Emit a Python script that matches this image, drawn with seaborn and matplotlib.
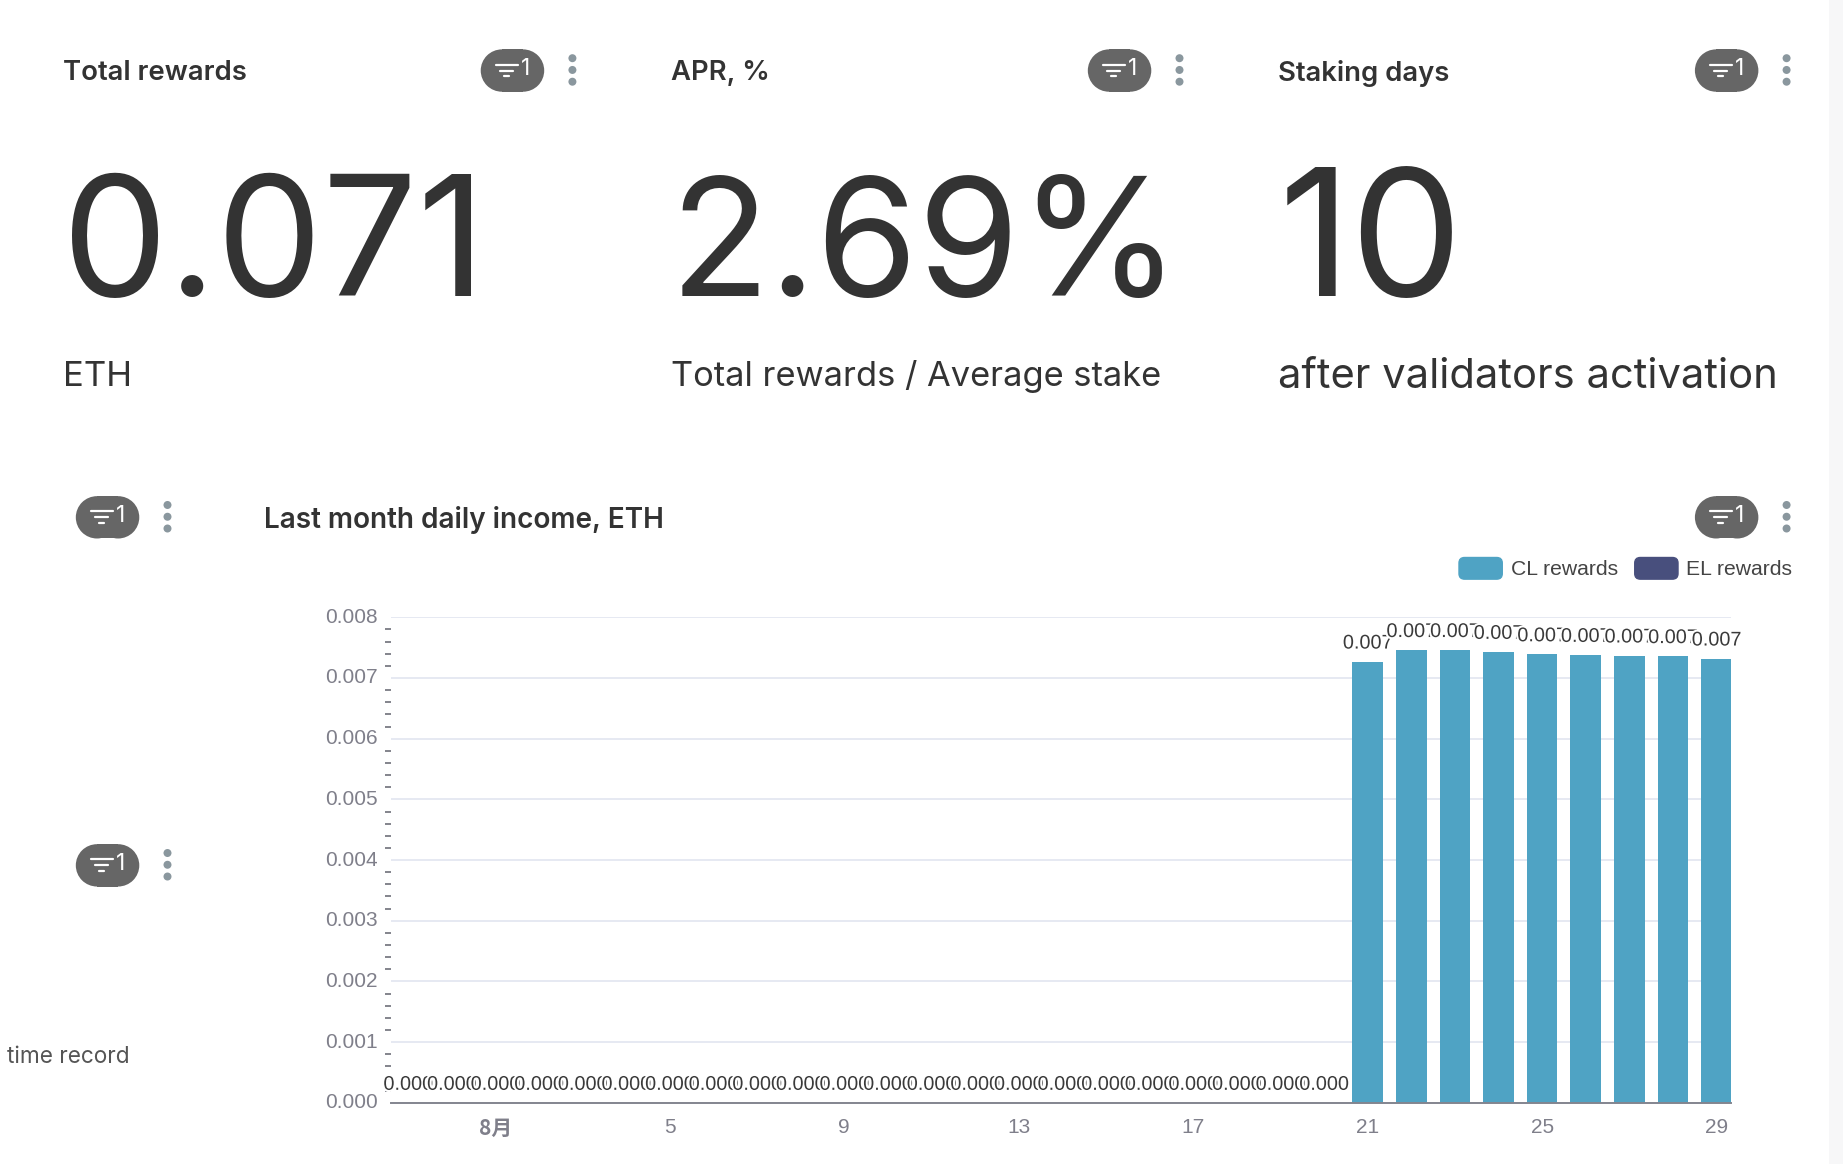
"""Panel de recompensas de staking: tarjetas KPI e ingreso diario del último mes."""

import matplotlib.patheffects as pe
import matplotlib.pyplot as plt
import pandas as pd
import seaborn as sns
from matplotlib.legend_handler import HandlerPatch
from matplotlib.patches import Circle, FancyBboxPatch, Patch, Rectangle
from matplotlib.ticker import FixedLocator, MultipleLocator

CL_COLOR = "#4fa3c4"
EL_COLOR = "#484f7d"
TEXT = "#333333"
W, H = 1568, 990  # lienzo de referencia para colocar la interfaz

sns.set_style("white")
plt.rcParams["font.family"] = ["Inter", "DejaVu Sans"]

# día 1 = 1 de agosto; -1 y 0 son los dos últimos días de julio
days = list(range(-1, 30))
cl = [0.0] * 22 + [0.00727, 0.00746, 0.00746, 0.00743, 0.00739,
                   0.00738, 0.00737, 0.00736, 0.00732]
daily = pd.DataFrame({"day": days, "cl": cl, "el": [0.0] * 31})

# x, título, valor, x del valor, tamaño del valor, nota, tamaño de la nota
CARDS = [
    (54, "Total rewards", "0.071", 53, 121, "ETH", 25),
    (571, "APR, %", "2.69%", 570, 118, "Total rewards / Average stake", 24.8),
    (1087, "Staking days", "10", 1088, 128, "after validators activation", 30),
]
FILTERS = [(436, 60), (952.5, 60), (1469, 60), (91.5, 440), (1469, 440), (91.5, 736)]


def draw_filter(ui, cx, cy):
    """Píldora gris con el embudo y el menú de tres puntos."""
    ui.add_patch(Rectangle((cx - 9, cy - 18), 18, 36, fc="#666666", ec="none"))
    for side in (-9, 9):
        ui.add_patch(Circle((cx + side, cy), 18, fc="#666666", ec="none"))
    for half, dy in [(9.4, -5), (5.5, 0), (2, 5)]:
        ui.plot([cx - 5 - half, cx - 5 + half], [cy + dy, cy + dy], color="white", lw=1.6,
                solid_capstyle="round")
    ui.text(cx + 11, cy - 1, "1", color="white", fontsize=16.5, ha="center", va="center")
    for dy in (-10, 0, 10):
        ui.add_patch(Circle((cx + 51, cy + dy - 0.5), 3.4, fc="#8a979e", ec="none"))


def rounded_handle(legend, orig_handle, xdescent, ydescent, width, height, fontsize):
    return FancyBboxPatch((-xdescent + 3, -ydescent + 3), width - 6, height - 6,
                          boxstyle="round,pad=3,rounding_size=4")


fig = plt.figure(figsize=(18.43, 11.64), dpi=100)

# capa de interfaz en píxeles de referencia
ui = fig.add_axes([0, 0, 1, 1])
ui.set_xlim(0, W)
ui.set_ylim(H, 0)
ui.axis("off")
ui.add_patch(Rectangle((1556, 0), 12, H, fc="#f7f7f8", ec="none"))

for x, title, value, value_x, value_size, note, note_size in CARDS:
    ui.text(x, 62.5, title, fontsize=19.8, fontweight="semibold", color=TEXT, va="center")
    ui.text(value_x, 252, value, fontsize=value_size, color=TEXT, va="baseline")
    ui.text(x, 320.5, note, fontsize=note_size, color=TEXT, va="center")

ui.text(225, 442, "Last month daily income, ETH", fontsize=20.1, fontweight="semibold",
        color=TEXT, va="center")
ui.text(6, 899, "time record", fontsize=16.3, color="#555555", va="center")

for cx, cy in FILTERS:
    draw_filter(ui, cx, cy)

# gráfico de barras apiladas
ax = fig.add_axes([333 / W, 1 - 938 / H, (1473 - 333) / W, (938 - 525) / H])
ax.patch.set_alpha(0)
sns.barplot(data=daily, x="day", y="cl", native_scale=True, color=CL_COLOR, saturation=1,
            width=0.7, linewidth=0, errorbar=None, ax=ax)
sns.barplot(data=daily, x="day", y="el", native_scale=True, color=EL_COLOR, saturation=1,
            width=0.7, linewidth=0, errorbar=None, bottom=daily["cl"].values, ax=ax)

labels = ax.bar_label(ax.containers[0], fmt="%.3f", padding=6.5, fontsize=14.3,
                      family="Liberation Sans", color="#3a3a3a")
for label in labels:
    label.set_path_effects([pe.withStroke(linewidth=3, foreground="white")])

ax.set_xlim(-1.385, 29.34)
ax.set_ylim(0, 0.008)
ax.set_xlabel("")
ax.set_ylabel("")
ax.yaxis.set_major_locator(MultipleLocator(0.001))
ax.yaxis.set_minor_locator(MultipleLocator(0.0002))
ax.yaxis.set_major_formatter("{x:.3f}")
ax.grid(axis="y", color="#e6e9f2", linewidth=1.4)
ax.set_axisbelow(True)
sns.despine(ax=ax, left=True)
ax.spines["bottom"].set_color("#83858f")
ax.spines["bottom"].set_linewidth(1.4)

tick_days = [1, 5, 9, 13, 17, 21, 25, 29]
ax.xaxis.set_major_locator(FixedLocator(tick_days))
ax.set_xticklabels(["8月"] + [str(d) for d in tick_days[1:]])
ax.tick_params(axis="x", length=5, width=1.2, color="#6e7079", pad=6, labelsize=15,
               labelcolor="#7f7f8a")
ax.tick_params(axis="y", which="major", length=0, pad=10, labelsize=15, labelcolor="#7f7f8a")
ax.tick_params(axis="y", which="minor", left=True, length=4, width=1.2, color="#6e7079")
for tick in ax.get_xticklabels() + ax.get_yticklabels():
    tick.set_family("Liberation Sans")
for tick in ax.get_yticklabels():
    tick.set_verticalalignment("center")
first = ax.get_xticklabels()[0]
first.set_family(["Noto Sans CJK SC", "Liberation Sans"])
first.set_fontweight("bold")

handles = [Patch(color=CL_COLOR, label="CL rewards"), Patch(color=EL_COLOR, label="EL rewards")]
fig.legend(handles=handles, loc="center right", bbox_to_anchor=(1525 / W, 1 - 483.5 / H), ncol=2,
           frameon=False, borderpad=0, borderaxespad=0, handlelength=2.05, handleheight=1.2,
           handletextpad=0.4, columnspacing=0.8,
           prop={"family": "Liberation Sans", "size": 15.2},
           labelcolor="#444444", handler_map={Patch: HandlerPatch(patch_func=rounded_handle)})

fig.savefig("out.png", dpi=100)
